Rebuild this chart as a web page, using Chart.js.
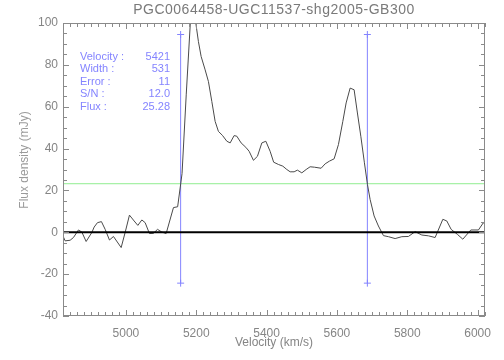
<!DOCTYPE html>
<html><head><meta charset="utf-8">
<script src="https://cdn.jsdelivr.net/npm/chart.js@4/dist/chart.umd.min.js"></script>
<style>html,body{margin:0;padding:0;background:#fff}canvas{display:block}</style>
</head><body>
<canvas id="c" width="504" height="360"></canvas>
<script>
const titleText = 'PGC0064458-UGC11537-shg2005-GB300';
const xTitle = 'Velocity (km/s)';
const yTitle = 'Flux density (mJy)';
const velocities = [4821, 4827.1, 4841.3, 4850.7, 4864.9, 4874.6, 4886.8, 4903.0, 4909.6, 4919.0, 4930.3, 4940.9, 4953.1, 4964.5, 4986.4, 4997.7, 5010.0, 5023.3, 5033.8, 5045.2, 5054.6, 5066.8, 5078.2, 5089.6, 5102.1, 5114.3, 5135.1, 5147.0, 5159.5, 5171.5, 5183.4, 5195.3, 5206.1, 5213.8, 5225.2, 5234.6, 5244.2, 5253.6, 5263.0, 5274.4, 5286.9, 5296.3, 5307.6, 5315.3, 5327.5, 5340.9, 5350.3, 5362.5, 5373.9, 5386.4, 5397.8, 5410.0, 5420.0, 5433.6, 5446.1, 5457.5, 5466.9, 5478.2, 5487.6, 5500.1, 5512.4, 5523.7, 5536.0, 5555.0, 5566.4, 5578.6, 5592.0, 5604.2, 5616.7, 5626.1, 5637.5, 5648.8, 5658.2, 5667.9, 5678.1, 5686.7, 5694.3, 5705.7, 5717.9, 5732.2, 5746.4, 5765.4, 5784.5, 5803.2, 5822.3, 5841.3, 5860.1, 5879.2, 5901.1, 5912.4, 5924.7, 5942.6, 5957.9, 5980.7, 6002.3, 6016.5, 6021];
const flux = [-1.8, -4.1, -3.8, -2.5, 1.1, 0.1, -4.4, -0.1, 2.5, 4.6, 5.1, 1.4, -3.7, -2.0, -7.3, -0.1, 8.2, 5.4, 3.3, 5.9, 4.6, -0.6, -0.5, 1.4, 0.1, -0.6, 11.8, 12.2, 28, 66, 101, 104, 91.1, 84, 77.6, 72, 62.5, 53, 48.2, 46.3, 43.5, 42.7, 46.2, 45.9, 42.7, 40.6, 38.7, 34.4, 36.3, 42.7, 43.5, 38.7, 33.5, 32.4, 31.6, 30, 28.9, 28.9, 29.7, 28.4, 30, 31.3, 31.1, 30.6, 32.7, 34, 35.1, 41.9, 53, 61.8, 68.9, 68.1, 57, 45.9, 33.2, 22.9, 15.7, 7.8, 3, -1.6, -2.1, -3, -2.1, -2.0, 0.3, -1.3, -1.7, -2.5, 6.2, 5.4, 1.4, -1, -3.3, 1.1, 1.1, 4.6, 3.8];
const xRange = [4821, 6021];
const yRange = [-40, 100];
const xTicks = [5000, 5200, 5400, 5600, 5800, 6000];
const yTicks = [-40, -20, 0, 20, 40, 60, 80, 100];
const xMinorStep = 20;
const yMinorStep = 5;
const markerVel = [5155.5, 5686.5];
const markerFlux = [-24.3, 94.5];
const threshold = 23.2;
const infoLabels = ['Velocity :', 'Width :', 'Error :', 'S/N :', 'Flux :'];
const infoValues = ['5421', '531', '11', '12.0', '25.28'];

const FONT = '"Liberation Sans", Arial, sans-serif';
const GRAY = '#858585';
const BLUE = '#8484ff';

const spectrum = velocities.map((v, i) => ({x: v, y: flux[i]}));

const framePlugin = {
  id: 'frame',
  afterDraw(chart) {
    const ctx = chart.ctx;
    const a = chart.chartArea;
    const xs = chart.scales.x, ys = chart.scales.y;
    ctx.save();
    const L = Math.round(a.left), R = Math.round(a.right) - 1;
    const T = Math.round(a.top), B = Math.round(a.bottom) - 1;
    ctx.fillStyle = '#8a8a8a';
    // frame
    ctx.fillRect(L, T, R - L + 1, 1);
    ctx.fillRect(L, B, R - L + 1, 1);
    ctx.fillRect(L, T, 1, B - T + 1);
    ctx.fillRect(R, T, 1, B - T + 1);
    // inward ticks on all four sides
    for (let i = Math.ceil(xRange[0] / xMinorStep); i * xMinorStep <= xRange[1]; i++) {
      const v = i * xMinorStep;
      const px = Math.round(xs.getPixelForValue(v));
      const len = (v % 200 === 0) ? 6 : 4;
      ctx.fillRect(px, B - len + 1, 1, len);
      ctx.fillRect(px, T, 1, len);
    }
    for (let i = yRange[0] / yMinorStep; i * yMinorStep <= yRange[1]; i++) {
      const v = i * yMinorStep;
      const py = Math.round(ys.getPixelForValue(v));
      const len = (v % 20 === 0) ? 6 : 4;
      ctx.fillRect(L, py, len, 1);
      ctx.fillRect(R - len + 1, py, len, 1);
    }
    // title centred over the plot
    ctx.fillStyle = '#7a7a7a';
    ctx.font = '14px ' + FONT;
    ctx.textAlign = 'center';
    ctx.textBaseline = 'middle';
    try { ctx.letterSpacing = '0.5px'; } catch (e) {}
    ctx.fillText(titleText, (a.left + a.right) / 2, 10.5);
    try { ctx.letterSpacing = '0px'; } catch (e) {}
    // y-axis title
    ctx.save();
    ctx.translate(25, 160);
    ctx.rotate(-Math.PI / 2);
    ctx.fillStyle = '#9a9a9a';
    ctx.font = '12px ' + FONT;
    ctx.fillText(yTitle, 0, 0);
    ctx.restore();
    // info block
    ctx.fillStyle = BLUE;
    ctx.font = '11px ' + FONT;
    ctx.textBaseline = 'middle';
    infoLabels.forEach((lab, i) => {
      const yy = a.top + 33.5 + i * 12.5;
      ctx.textAlign = 'left';
      ctx.fillText(lab, a.left + 17, yy);
      ctx.textAlign = 'right';
      ctx.fillText(infoValues[i], a.left + 107, yy);
    });
    ctx.restore();
  }
};

new Chart(document.getElementById('c'), {
  type: 'line',
  data: {
    datasets: [
      {
        data: [{x: xRange[0], y: 0}, {x: xRange[1], y: 0}],
        borderColor: '#000', borderWidth: 2, pointRadius: 0
      },
      {
        data: spectrum,
        borderColor: '#4a4a4a', borderWidth: 1, pointRadius: 0, tension: 0
      },
      {
        data: [{x: markerVel[0], y: markerFlux[0]}, {x: markerVel[0], y: markerFlux[1]}],
        borderColor: BLUE, borderWidth: 1, pointStyle: 'cross', pointRadius: 3.5,
        pointBorderColor: BLUE, pointBorderWidth: 1
      },
      {
        data: [{x: markerVel[1], y: markerFlux[0]}, {x: markerVel[1], y: markerFlux[1]}],
        borderColor: BLUE, borderWidth: 1, pointStyle: 'cross', pointRadius: 3.5,
        pointBorderColor: BLUE, pointBorderWidth: 1
      },
      {
        data: [{x: xRange[0], y: threshold}, {x: xRange[1], y: threshold}],
        borderColor: '#90ee90', borderWidth: 1, pointRadius: 0
      }
    ]
  },
  options: {
    responsive: false,
    animation: false,
    devicePixelRatio: 1,
    layout: {padding: {left: 0, right: 19, top: 23, bottom: 0}},
    plugins: {
      legend: {display: false},
      tooltip: {enabled: false},
      title: {display: false}
    },
    scales: {
      x: {
        type: 'linear', min: xRange[0], max: xRange[1],
        afterBuildTicks: s => { s.ticks = xTicks.map(v => ({value: v})); },
        afterFit: s => { s.height = 44; },
        grid: {display: false, drawTicks: false},
        border: {display: false},
        ticks: {color: GRAY, font: {family: FONT, size: 12}, padding: 10, maxRotation: 0, autoSkip: false,
                callback: v => String(v)},
        title: {display: true, text: xTitle, color: GRAY, font: {family: FONT, size: 12}, padding: {top: 0, bottom: 10}}
      },
      y: {
        type: 'linear', min: yRange[0], max: yRange[1],
        afterBuildTicks: s => { s.ticks = yTicks.map(v => ({value: v})); },
        afterFit: s => { s.width = 63; },
        grid: {display: false, drawTicks: false},
        border: {display: false},
        ticks: {color: GRAY, font: {family: FONT, size: 12}, padding: 5, autoSkip: false,
                callback: v => String(v)},
        title: {display: false}
      }
    }
  },
  plugins: [framePlugin]
});
</script>
</body></html>
